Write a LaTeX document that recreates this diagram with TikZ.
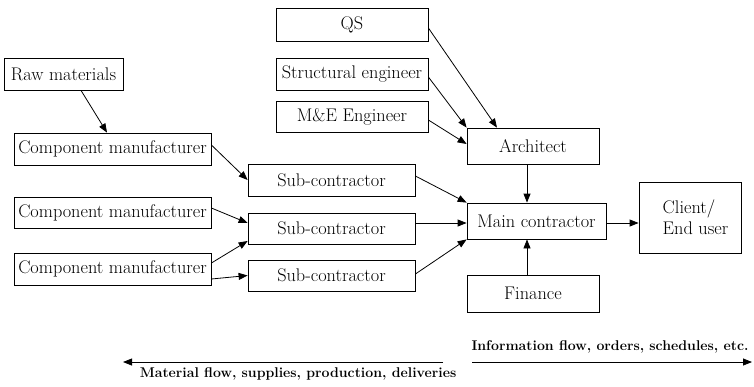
\documentclass[tikz,border=0pt]{standalone}
\usetikzlibrary{arrows.meta}
\begin{document}
\begin{tikzpicture}[x=1pt,y=-1pt,
  box/.style={draw, line width=0.8pt, inner sep=0pt, font=\fontsize{18.3}{21}\selectfont},
  conn/.style={line width=0.8pt, -{Triangle[length=9pt,width=7pt]}},
  flowtext/.style={inner sep=0pt, font=\fontsize{14.1}{16}\selectfont\bfseries}]
\useasboundingbox (0,0) rectangle (754,386);
% left column
\node[box, minimum width=119pt, minimum height=32pt] (raw) at (63.5,74) {Raw materials};
\node[box, minimum width=197pt, minimum height=32pt] (cm1) at (112.5,149) {Component manufacturer};
\node[box, minimum width=197pt, minimum height=31pt] (cm2) at (112.5,212.5) {Component manufacturer};
\node[box, minimum width=197pt, minimum height=32pt] (cm3) at (112.5,269) {Component manufacturer};
% sub-contractors
\node[box, minimum width=167pt, minimum height=32pt] (sub1) at (331.5,180) {Sub-contractor};
\node[box, minimum width=167pt, minimum height=31pt] (sub2) at (331.5,228.5) {Sub-contractor};
\node[box, minimum width=167pt, minimum height=31pt] (sub3) at (331.5,275.5) {Sub-contractor};
% consultants
\node[box, minimum width=152pt, minimum height=33pt] (qs) at (352,24.5) {QS};
\node[box, minimum width=152pt, minimum height=32pt] (se) at (352,74) {Structural engineer};
\node[box, minimum width=152pt, minimum height=31pt] (me) at (352,116.5) {M\&E Engineer};
% right side
\node[box, minimum width=132pt, minimum height=36pt] (arch) at (533,146) {Architect};
\node[box, minimum width=139pt, minimum height=36pt] (main) at (536.5,221) {Main contractor};
\node[box, minimum width=132pt, minimum height=37pt] (fin) at (533,293.5) {Finance};
\node[box, minimum width=102pt, minimum height=71pt] (client) at (690,217.5) {};
\node[inner sep=0pt, align=left, font=\fontsize{18.3}{21}\selectfont] (clienttext) at (695.5,217) {Client/\\End user};
% connectors
\draw[conn] ([xshift=17.5pt]raw.south) -- ([xshift=-5.5pt]cm1.north);
\draw[conn] ([yshift=4pt]cm1.east) -- (sub1.west);
\draw[conn] ([yshift=4.5pt]cm2.east) -- ([yshift=5.5pt]sub2.west);
\draw[conn] ([yshift=6pt]cm3.east) -- ([yshift=-12.5pt]sub2.west);
\draw[conn] ([yshift=-10pt]cm3.east) -- (sub3.west);
\draw[conn] ([yshift=-3.5pt]qs.east) -- ([xshift=-36pt]arch.north);
\draw[conn] ([yshift=-3pt]se.east) -- (arch.north west);
\draw[conn] ([yshift=-3.5pt]me.east) -- ([yshift=2pt]arch.west);
\draw[conn] ([yshift=4pt]sub1.east) -- (main.north west);
\draw[conn] ([yshift=5.5pt]sub2.east) -- ([yshift=-2pt]main.west);
\draw[conn] ([yshift=1.5pt]sub3.east) -- (main.south west);
\draw[conn] ([xshift=-6pt]arch.south) -- ([xshift=-9.5pt]main.north);
\draw[conn] ([xshift=-6pt]fin.north) -- ([xshift=-9.5pt]main.south);
\draw[conn] ([yshift=-2pt]main.east) -- ([yshift=-5.5pt]client.west);
% flow arrows
\coordinate (mstart) at (443,362);
\coordinate (mend) at (123,362);
\coordinate (istart) at (472,362);
\coordinate (iend) at (752,362);
\draw[conn] (mstart) -- (mend);
\draw[conn] (istart) -- (iend);
\node[flowtext] (mattext) at (298,374) {Material flow, supplies, production, deliveries};
\node[flowtext] (infotext) at (610,347) {Information flow, orders, schedules, etc.};
\end{tikzpicture}
\end{document}
